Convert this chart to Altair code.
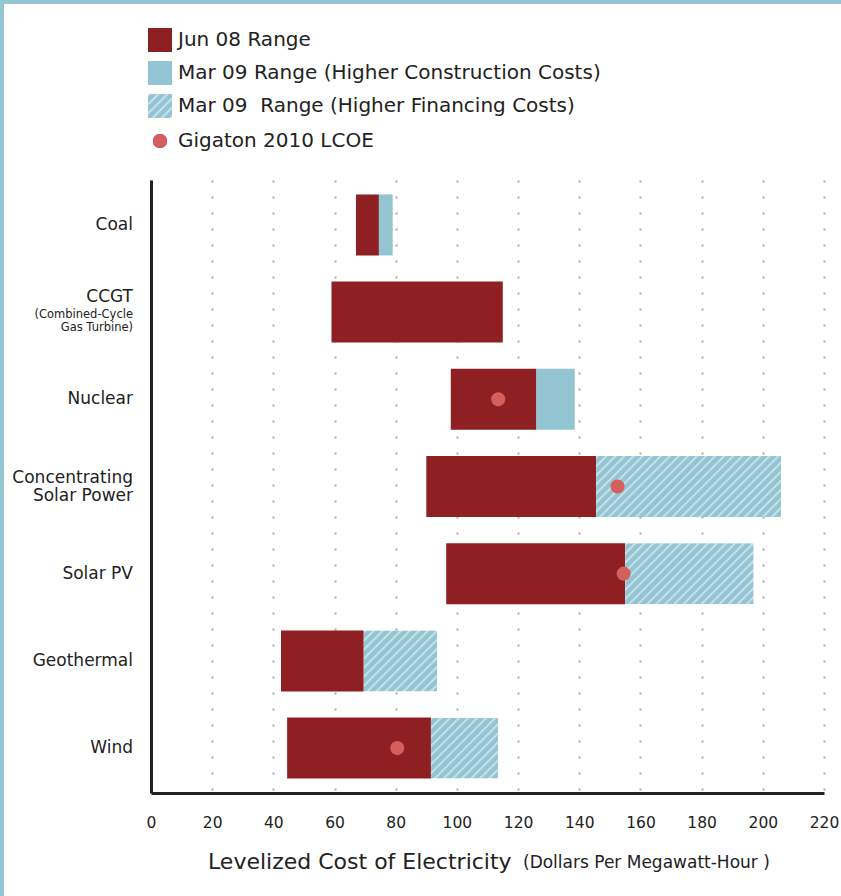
import altair as alt
import pandas as pd
import base64

# ---------------- data ----------------
categories = ["Coal", "CCGT", "Nuclear", "Concentrating Solar Power",
              "Solar PV", "Geothermal", "Wind"]
jun08_low = [67, 59, 98, 90, 96.5, 42.5, 44.5]
jun08_high = [74.5, 115, 126, 145.5, 155, 69.5, 91.5]
mar09_construction_high = [79, None, 138.5, None, None, None, None]
mar09_financing_high = [None, None, None, 206, 197, 93.5, 113.5]
gigaton_lcoe = [None, None, 113.5, 152.5, 154.5, None, 80.5]
x_ticks = list(range(0, 221, 20))

label_cat = ["Coal", "CCGT", "CCGT", "CCGT", "Nuclear",
             "Concentrating Solar Power", "Concentrating Solar Power",
             "Solar PV", "Geothermal", "Wind"]
label_text = ["Coal", "CCGT", "(Combined-Cycle", "Gas Turbine)", "Nuclear",
              "Concentrating", "Solar Power", "Solar PV", "Geothermal", "Wind"]
label_dy = [0, -15, 3, 16, 0, -9, 9, 0, 0, 0]
label_size = [17, 17, 11.5, 11.5, 17, 17, 17, 17, 17, 17]

legend_labels = ["Jun 08 Range",
                 "Mar 09 Range (Higher Construction Costs)",
                 "Mar 09\u00a0 Range (Higher Financing Costs)",
                 "Gigaton 2010 LCOE"]

x_title_main = "Levelized Cost of Electricity"
x_title_sub = "(Dollars Per Megawatt-Hour )"

# ---------------- style ----------------
RED = "#8e1f22"
BLUE = "#93c4d2"
STRIPE = "#c6e1e9"
DOT = "#d45f5c"
TXT = "#222222"
FONT = "DejaVu Sans"

hatch_svg = (
    '<svg xmlns="http://www.w3.org/2000/svg" width="100%" height="100%">'
    '<defs><pattern id="h" width="6.4" height="6.4" patternUnits="userSpaceOnUse" '
    'patternTransform="rotate(45)">'
    f'<rect width="6.4" height="6.4" fill="{BLUE}"/>'
    f'<rect width="2" height="6.4" fill="{STRIPE}"/>'
    '</pattern></defs>'
    '<rect width="100%" height="100%" fill="url(#h)"/></svg>'
)
HATCH_URL = "data:image/svg+xml;base64," + base64.b64encode(hatch_svg.encode()).decode()

df = pd.DataFrame({
    "category": categories,
    "jun_low": jun08_low,
    "jun_high": jun08_high,
    "con_high": mar09_construction_high,
    "fin_high": mar09_financing_high,
    "lcoe": gigaton_lcoe,
})
labels_df = pd.DataFrame({"category": label_cat, "text": label_text,
                          "dy": label_dy, "size": label_size})

W, H = 673, 613

xscale = alt.Scale(domain=[0, 220], nice=False, zero=False)
yscale = alt.Scale(domain=categories, paddingInner=0.3, paddingOuter=0.165)

xaxis = alt.Axis(values=x_ticks, grid=True, gridDash=[2, 14], gridColor="#aaaaaa",
                 gridWidth=2, gridDashOffset=13, domain=True, domainColor=TXT,
                 domainWidth=3, ticks=False, labelPadding=22, labelFont=FONT,
                 labelFontSize=15.5, labelColor=TXT, labelFlush=False,
                 labelOverlap=False, title=None)
yaxis = alt.Axis(labels=False, ticks=False, domain=True, domainColor=TXT,
                 domainWidth=3, grid=False, title=None)

Y = alt.Y("category:N", sort=categories, scale=yscale, axis=yaxis)

base = alt.Chart(df)

jun_bars = base.mark_bar(color=RED).encode(
    x=alt.X("jun_low:Q", scale=xscale, axis=xaxis),
    x2="jun_high:Q",
    y=Y,
)
con_bars = base.transform_filter("isValid(datum.con_high)").mark_bar(color=BLUE).encode(
    x=alt.X("jun_high:Q", scale=xscale),
    x2="con_high:Q",
    y=Y,
)
fin_bars = base.transform_filter("isValid(datum.fin_high)").mark_image(aspect=False).encode(
    x=alt.X("jun_high:Q", scale=xscale),
    x2="fin_high:Q",
    y=Y,
    url=alt.value(HATCH_URL),
)
dots = base.transform_filter("isValid(datum.lcoe)").mark_circle(
    color=DOT, size=200, opacity=1).encode(
    x=alt.X("lcoe:Q", scale=xscale),
    y=Y,
)

label_layers = []
for dy, sz in sorted(set(zip(label_dy, label_size))):
    label_layers.append(
        alt.Chart(labels_df)
        .transform_filter(f"datum.dy == {dy} && datum.size == {sz}")
        .mark_text(align="right", baseline="middle", dy=dy, fontSize=sz,
                   font=FONT, color=TXT)
        .encode(x=alt.value(-18), y=Y, text="text:N")
    )

title_df = pd.DataFrame({"main": [x_title_main], "sub": [x_title_sub]})
title_main = alt.Chart(title_df).mark_text(
    align="left", baseline="middle", fontSize=22, font=FONT, color=TXT).encode(
    x=alt.value(57), y=alt.value(682), text="main:N")
title_sub = alt.Chart(title_df).mark_text(
    align="left", baseline="middle", fontSize=17, font=FONT, color=TXT).encode(
    x=alt.value(372), y=alt.value(683), text="sub:N")

# legend (manual)
leg_df = pd.DataFrame({"label": legend_labels})
leg_y = [-140, -107, -74, -39]
leg_red = alt.Chart(leg_df).mark_rect(color=RED).encode(
    x=alt.value(-3), x2=alt.value(21), y=alt.value(leg_y[0] - 12), y2=alt.value(leg_y[0] + 12))
leg_blue = alt.Chart(leg_df).mark_rect(color=BLUE).encode(
    x=alt.value(-3), x2=alt.value(21), y=alt.value(leg_y[1] - 12), y2=alt.value(leg_y[1] + 12))
leg_hatch = alt.Chart(leg_df).mark_image(aspect=False).encode(
    x=alt.value(-3), x2=alt.value(21), y=alt.value(leg_y[2] - 12), y2=alt.value(leg_y[2] + 12),
    url=alt.value(HATCH_URL))
leg_dot = alt.Chart(leg_df).mark_circle(color=DOT, size=200, opacity=1).encode(
    x=alt.value(9), y=alt.value(leg_y[3]))
leg_text_layers = []
for i, lab in enumerate(legend_labels):
    leg_text_layers.append(
        alt.Chart(leg_df).transform_filter(f"datum.label == {lab!r}").mark_text(
            align="left", baseline="middle", fontSize=20, font=FONT, color=TXT).encode(
            x=alt.value(27), y=alt.value(leg_y[i]), text="label:N"))

# light-blue frame stripes
frame_left = alt.Chart(title_df).mark_rect(color="#94c6d3").encode(
    x=alt.value(-151), x2=alt.value(-147), y=alt.value(-180), y2=alt.value(H + 103))
frame_top = alt.Chart(title_df).mark_rect(color="#94c6d3").encode(
    x=alt.value(-151), x2=alt.value(W + 17), y=alt.value(-180), y2=alt.value(-176))

chart = alt.layer(
    jun_bars, con_bars, fin_bars, dots,
    *label_layers, title_main, title_sub,
    leg_red, leg_blue, leg_hatch, leg_dot, *leg_text_layers,
    frame_left, frame_top,
).properties(
    width=W, height=H,
    padding={"left": 151, "top": 180, "right": 17, "bottom": 103},
    autosize=alt.AutoSizeParams(type="none"),
    background="white",
).configure_view(stroke=None)

chart.save("out.html", embed_options={"renderer": "svg", "actions": False})
